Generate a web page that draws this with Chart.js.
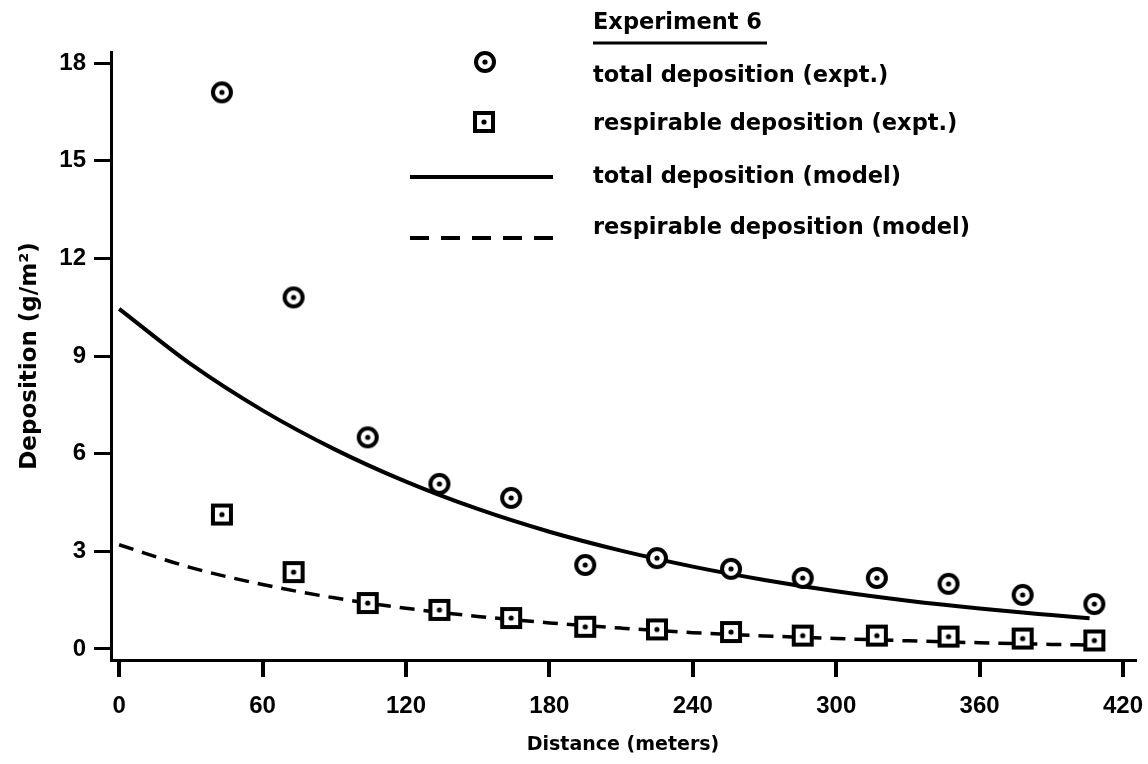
<!DOCTYPE html>
<html>
<head>
<meta charset="utf-8">
<script src="https://cdn.jsdelivr.net/npm/chart.js@4/dist/chart.umd.min.js"></script>
<style>
  body { margin: 0; background: #fff; }
  #wrap { width: 1148px; height: 764px; }
</style>
</head>
<body>
<div id="wrap"><canvas id="myChart" width="1148" height="764"></canvas></div>
<script>
// values (Experiment 6)
var distExpt = [43, 73, 104, 134, 164, 195, 225, 256, 286, 317, 347, 378, 408];
var totalExpt = [17.1, 10.8, 6.5, 5.07, 4.64, 2.58, 2.79, 2.46, 2.18, 2.18, 2.0, 1.66, 1.38];
var respExpt = [4.13, 2.36, 1.41, 1.2, 0.95, 0.68, 0.6, 0.52, 0.41, 0.41, 0.38, 0.32, 0.26];

var distModel = [0, 30, 60, 90, 120, 150, 180, 210, 240, 270, 300, 330, 360, 390, 406];
var totalModel = [10.45, 8.75, 7.33, 6.14, 5.14, 4.3, 3.6, 3.02, 2.53, 2.12, 1.77, 1.48, 1.24, 1.04, 0.94];
var respModel = [3.2, 2.5, 1.98, 1.57, 1.25, 1.0, 0.8, 0.64, 0.5, 0.4, 0.32, 0.25, 0.19, 0.14, 0.12];

var xTicks = [0, 60, 120, 180, 240, 300, 360, 420];
var yTicks = [0, 3, 6, 9, 12, 15, 18];

var legendTitle = "Experiment 6";
var legendLabels = [
    "total deposition (expt.)",
    "respirable deposition (expt.)",
    "total deposition (model)",
    "respirable deposition (model)"
];

var tickFont = '"Liberation Sans", Arial, sans-serif';
var labelFont = '"DejaVu Sans", sans-serif';

function pairs(xs, ys) {
    var out = [];
    for (var i = 0; i < xs.length; i++) out.push({x: xs[i], y: ys[i]});
    return out;
}

// marker images: ring / box with a dot in the middle
function makeMarker(kind) {
    var c = document.createElement("canvas");
    c.width = 26; c.height = 26;
    var g = c.getContext("2d");
    g.fillStyle = "#fff";
    g.strokeStyle = "#000";
    g.lineWidth = 4;
    g.beginPath();
    if (kind === "circle") {
        g.arc(13, 13, 9, 0, Math.PI * 2);
    } else {
        g.rect(4, 4, 18, 18);
    }
    g.fill();
    g.stroke();
    g.fillStyle = "#000";
    g.beginPath();
    g.arc(13, 13, 2.6, 0, Math.PI * 2);
    g.fill();
    return c;
}
var ringDot = makeMarker("circle");
var boxDot = makeMarker("square");

var legendPlugin = {
    id: "exptLegend",
    afterDraw: function(chart) {
        var ctx = chart.ctx;
        ctx.save();
        ctx.fillStyle = "#000";
        ctx.strokeStyle = "#000";
        ctx.font = "bold 22.5px " + labelFont;
        ctx.textBaseline = "alphabetic";
        ctx.textAlign = "left";
        ctx.fillText(legendTitle, 593, 29);
        ctx.lineWidth = 3;
        ctx.beginPath();
        ctx.moveTo(593, 43);
        ctx.lineTo(767, 43);
        ctx.stroke();

        var baselines = [82, 130, 183, 234];
        for (var i = 0; i < legendLabels.length; i++) {
            ctx.fillText(legendLabels[i], 593, baselines[i]);
        }
        ctx.drawImage(ringDot, 485 - 13, 62 - 13);
        ctx.drawImage(boxDot, 484 - 13, 122 - 13);

        ctx.lineWidth = 4;
        ctx.beginPath();
        ctx.moveTo(410, 177);
        ctx.lineTo(553, 177);
        ctx.stroke();
        ctx.setLineDash([19, 12]);
        ctx.beginPath();
        ctx.moveTo(410, 238);
        ctx.lineTo(553, 238);
        ctx.stroke();
        ctx.restore();
    }
};

new Chart("myChart", {
    type: "scatter",
    data: {
        datasets: [{
            data: pairs(distExpt, totalExpt),
            pointStyle: ringDot,
            pointRadius: 10,
            order: 0
        }, {
            data: pairs(distExpt, respExpt),
            pointStyle: boxDot,
            pointRadius: 10,
            order: 1
        }, {
            data: pairs(distModel, totalModel),
            showLine: true,
            pointRadius: 0,
            borderColor: "#000",
            borderWidth: 4,
            cubicInterpolationMode: "monotone",
            order: 2
        }, {
            data: pairs(distModel, respModel),
            showLine: true,
            pointRadius: 0,
            borderColor: "#000",
            borderWidth: 3.5,
            borderDash: [15, 9],
            cubicInterpolationMode: "monotone",
            order: 3
        }]
    },
    options: {
        responsive: false,
        animation: false,
        layout: {padding: {top: 52, right: 13, left: 0, bottom: 0}},
        plugins: {
            legend: {display: false},
            tooltip: {enabled: false}
        },
        scales: {
            x: {
                type: "linear",
                min: -3.4,
                max: 425,
                afterBuildTicks: function(scale) {
                    scale.ticks = xTicks.map(function(v) { return {value: v}; });
                },
                afterFit: function(scale) {
                    scale.height = 104;
                    scale.paddingLeft = 0;
                    scale.paddingRight = 0;
                },
                border: {display: true, width: 3, color: "#000"},
                grid: {drawOnChartArea: false, drawTicks: true, tickLength: 17, lineWidth: 4, tickColor: "#000"},
                ticks: {
                    color: "#000",
                    padding: 15,
                    maxRotation: 0,
                    font: {family: tickFont, size: 24, weight: "bold"},
                    callback: function(v) { return String(v); }
                },
                title: {
                    display: true,
                    text: "Distance (meters)",
                    color: "#000",
                    font: {family: labelFont, size: 19, weight: "bold"},
                    padding: {top: 0, bottom: 8}
                }
            },
            y: {
                type: "linear",
                min: -0.34,
                max: 18.34,
                afterBuildTicks: function(scale) {
                    scale.ticks = yTicks.map(function(v) { return {value: v}; });
                },
                afterFit: function(scale) {
                    scale.width = 111;
                    scale.paddingTop = 0;
                    scale.paddingBottom = 0;
                },
                border: {display: true, width: 3, color: "#000"},
                grid: {drawOnChartArea: false, drawTicks: true, tickLength: 17, lineWidth: 3, tickColor: "#000"},
                ticks: {
                    color: "#000",
                    padding: 8,
                    font: {family: tickFont, size: 24, weight: "bold"},
                    callback: function(v) { return String(v); }
                },
                title: {
                    display: true,
                    text: "Deposition (g/m²)",
                    color: "#000",
                    font: {family: labelFont, size: 23, weight: "bold"},
                    padding: {top: 16, bottom: 0}
                }
            }
        }
    },
    plugins: [legendPlugin]
});
</script>
</body>
</html>
